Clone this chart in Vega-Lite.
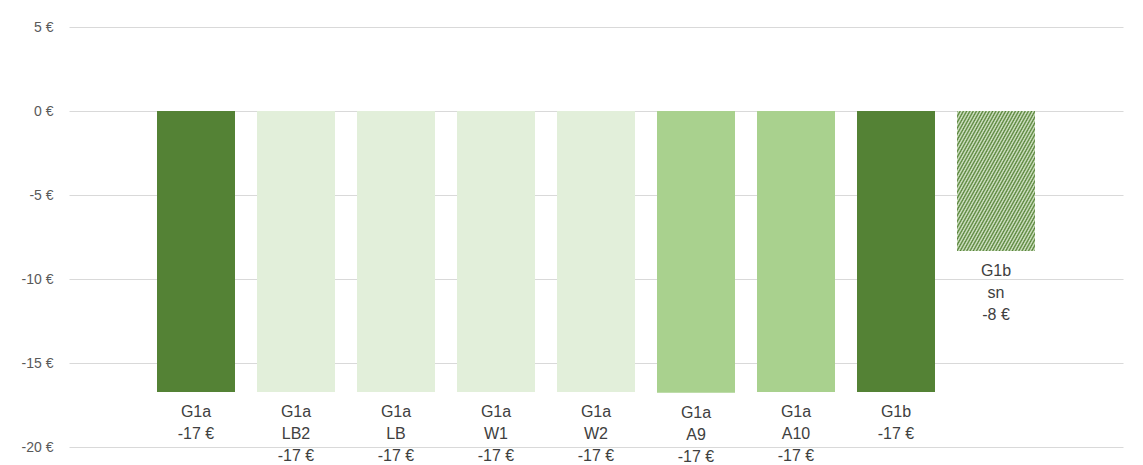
{
  "$schema": "https://vega.github.io/schema/vega-lite/v6.json",
  "width": 1054,
  "height": 420,
  "autosize": {"type": "none"},
  "padding": {"left": 69, "top": 27, "right": 20, "bottom": 18},
  "background": "#ffffff",
  "config": {"view": {"stroke": null}, "font": "Liberation Sans"},
  "data": {
    "values": [
      {"cat": "G1a", "type": "base", "value": -16.73, "label": "G1a\n-17 €"},
      {"cat": "G1a LB2", "type": "light", "value": -16.73, "label": "G1a\nLB2\n-17 €"},
      {"cat": "G1a LB", "type": "light", "value": -16.73, "label": "G1a\nLB\n-17 €"},
      {"cat": "G1a W1", "type": "light", "value": -16.73, "label": "G1a\nW1\n-17 €"},
      {"cat": "G1a W2", "type": "light", "value": -16.73, "label": "G1a\nW2\n-17 €"},
      {"cat": "G1a A9", "type": "mid", "value": -16.77, "label": "G1a\nA9\n-17 €"},
      {"cat": "G1a A10", "type": "mid", "value": -16.73, "label": "G1a\nA10\n-17 €"},
      {"cat": "G1b", "type": "base", "value": -16.73, "label": "G1b\n-17 €"},
      {"cat": "G1b sn", "type": "sn", "value": -8.33, "label": "G1b\nsn\n-8 €"}
    ]
  },
  "encoding": {
    "x": {
      "field": "cat", "type": "nominal", "sort": null,
      "scale": {"paddingInner": 0.22, "paddingOuter": 0.88},
      "axis": null
    },
    "y": {
      "field": "value", "type": "quantitative",
      "scale": {"domain": [-20, 5], "nice": false, "zero": false},
      "axis": {
        "values": [-20, -15, -10, -5, 0, 5],
        "labelExpr": "datum.value + ' €'",
        "domain": false, "ticks": false,
        "grid": true, "gridColor": "#d9d9d9", "gridWidth": 1,
        "labelFontSize": 14, "labelColor": "#595959", "labelPadding": 16,
        "labelFont": "Liberation Sans",
        "title": null
      }
    }
  },
  "layer": [
    {
      "mark": {"type": "bar"},
      "encoding": {
        "color": {
          "condition": {
            "test": "datum.type === 'sn'",
            "value": {
              "gradient": "linear", "x1": 0, "y1": 0, "x2": 1, "y2": 1,
              "stops": [
                {"offset": 0, "color": "#548235"}, {"offset": 0.0104, "color": "#dbe9d0"},
                {"offset": 0.0208, "color": "#548235"}, {"offset": 0.0313, "color": "#dbe9d0"},
                {"offset": 0.0417, "color": "#548235"}, {"offset": 0.0521, "color": "#dbe9d0"},
                {"offset": 0.0625, "color": "#548235"}, {"offset": 0.0729, "color": "#dbe9d0"},
                {"offset": 0.0833, "color": "#548235"}, {"offset": 0.0938, "color": "#dbe9d0"},
                {"offset": 0.1042, "color": "#548235"}, {"offset": 0.1146, "color": "#dbe9d0"},
                {"offset": 0.125, "color": "#548235"}, {"offset": 0.1354, "color": "#dbe9d0"},
                {"offset": 0.1458, "color": "#548235"}, {"offset": 0.1563, "color": "#dbe9d0"},
                {"offset": 0.1667, "color": "#548235"}, {"offset": 0.1771, "color": "#dbe9d0"},
                {"offset": 0.1875, "color": "#548235"}, {"offset": 0.1979, "color": "#dbe9d0"},
                {"offset": 0.2083, "color": "#548235"}, {"offset": 0.2188, "color": "#dbe9d0"},
                {"offset": 0.2292, "color": "#548235"}, {"offset": 0.2396, "color": "#dbe9d0"},
                {"offset": 0.25, "color": "#548235"}, {"offset": 0.2604, "color": "#dbe9d0"},
                {"offset": 0.2708, "color": "#548235"}, {"offset": 0.2813, "color": "#dbe9d0"},
                {"offset": 0.2917, "color": "#548235"}, {"offset": 0.3021, "color": "#dbe9d0"},
                {"offset": 0.3125, "color": "#548235"}, {"offset": 0.3229, "color": "#dbe9d0"},
                {"offset": 0.3333, "color": "#548235"}, {"offset": 0.3438, "color": "#dbe9d0"},
                {"offset": 0.3542, "color": "#548235"}, {"offset": 0.3646, "color": "#dbe9d0"},
                {"offset": 0.375, "color": "#548235"}, {"offset": 0.3854, "color": "#dbe9d0"},
                {"offset": 0.3958, "color": "#548235"}, {"offset": 0.4063, "color": "#dbe9d0"},
                {"offset": 0.4167, "color": "#548235"}, {"offset": 0.4271, "color": "#dbe9d0"},
                {"offset": 0.4375, "color": "#548235"}, {"offset": 0.4479, "color": "#dbe9d0"},
                {"offset": 0.4583, "color": "#548235"}, {"offset": 0.4688, "color": "#dbe9d0"},
                {"offset": 0.4792, "color": "#548235"}, {"offset": 0.4896, "color": "#dbe9d0"},
                {"offset": 0.5, "color": "#548235"}, {"offset": 0.5104, "color": "#dbe9d0"},
                {"offset": 0.5208, "color": "#548235"}, {"offset": 0.5313, "color": "#dbe9d0"},
                {"offset": 0.5417, "color": "#548235"}, {"offset": 0.5521, "color": "#dbe9d0"},
                {"offset": 0.5625, "color": "#548235"}, {"offset": 0.5729, "color": "#dbe9d0"},
                {"offset": 0.5833, "color": "#548235"}, {"offset": 0.5938, "color": "#dbe9d0"},
                {"offset": 0.6042, "color": "#548235"}, {"offset": 0.6146, "color": "#dbe9d0"},
                {"offset": 0.625, "color": "#548235"}, {"offset": 0.6354, "color": "#dbe9d0"},
                {"offset": 0.6458, "color": "#548235"}, {"offset": 0.6563, "color": "#dbe9d0"},
                {"offset": 0.6667, "color": "#548235"}, {"offset": 0.6771, "color": "#dbe9d0"},
                {"offset": 0.6875, "color": "#548235"}, {"offset": 0.6979, "color": "#dbe9d0"},
                {"offset": 0.7083, "color": "#548235"}, {"offset": 0.7188, "color": "#dbe9d0"},
                {"offset": 0.7292, "color": "#548235"}, {"offset": 0.7396, "color": "#dbe9d0"},
                {"offset": 0.75, "color": "#548235"}, {"offset": 0.7604, "color": "#dbe9d0"},
                {"offset": 0.7708, "color": "#548235"}, {"offset": 0.7813, "color": "#dbe9d0"},
                {"offset": 0.7917, "color": "#548235"}, {"offset": 0.8021, "color": "#dbe9d0"},
                {"offset": 0.8125, "color": "#548235"}, {"offset": 0.8229, "color": "#dbe9d0"},
                {"offset": 0.8333, "color": "#548235"}, {"offset": 0.8438, "color": "#dbe9d0"},
                {"offset": 0.8542, "color": "#548235"}, {"offset": 0.8646, "color": "#dbe9d0"},
                {"offset": 0.875, "color": "#548235"}, {"offset": 0.8854, "color": "#dbe9d0"},
                {"offset": 0.8958, "color": "#548235"}, {"offset": 0.9063, "color": "#dbe9d0"},
                {"offset": 0.9167, "color": "#548235"}, {"offset": 0.9271, "color": "#dbe9d0"},
                {"offset": 0.9375, "color": "#548235"}, {"offset": 0.9479, "color": "#dbe9d0"},
                {"offset": 0.9583, "color": "#548235"}, {"offset": 0.9688, "color": "#dbe9d0"},
                {"offset": 0.9792, "color": "#548235"}, {"offset": 0.9896, "color": "#dbe9d0"},
                {"offset": 1, "color": "#548235"}
              ]
            }
          },
          "field": "type", "type": "nominal",
          "scale": {"domain": ["base", "light", "mid", "sn"], "range": ["#548235", "#e2efda", "#a9d18e", "#a9c19a"]},
          "legend": null
        }
      }
    },
    {
      "mark": {"type": "text", "baseline": "top", "align": "center", "dy": 12, "lineBreak": "\n", "lineHeight": 22, "fontSize": 16, "color": "#404040", "font": "Liberation Sans"},
      "encoding": {"text": {"field": "label"}}
    }
  ]
}
